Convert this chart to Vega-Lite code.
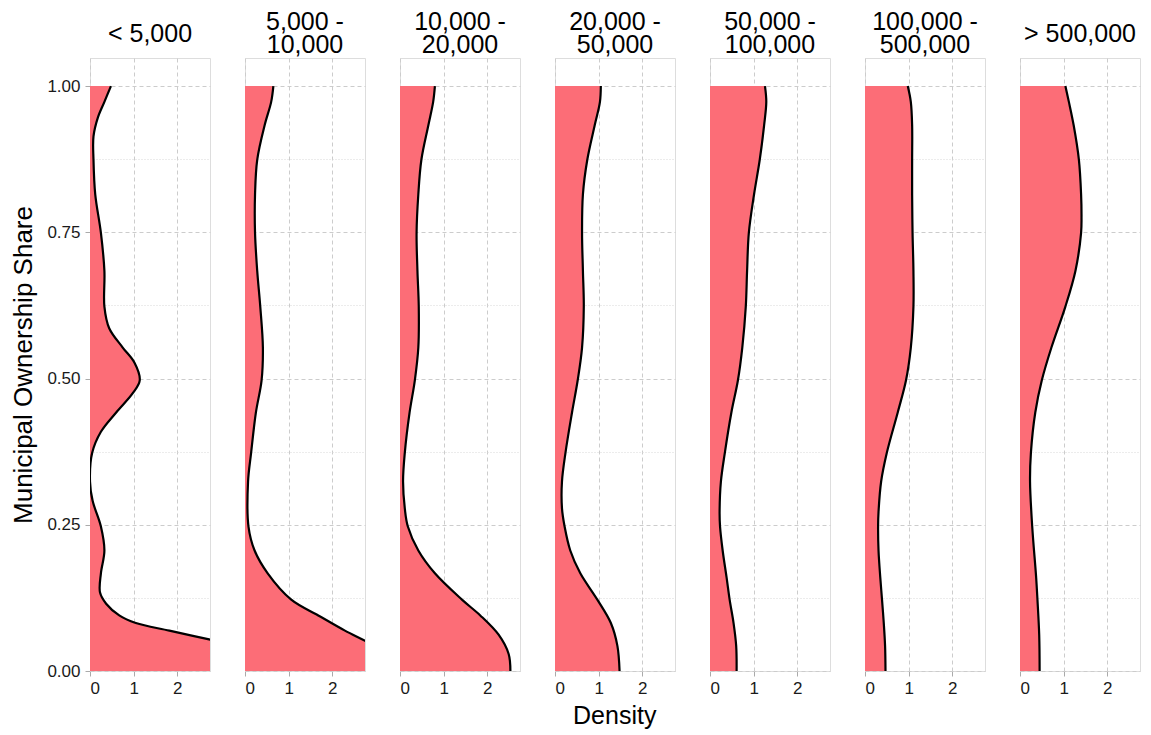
{
  "$schema": "https://vega.github.io/schema/vega-lite/v6.json",
  "background": "white",
  "padding": {"left": 10, "top": 10, "right": 5, "bottom": 2},
  "bounds": "flush",
  "title": {"text": "Density", "orient": "bottom", "anchor": "middle", "fontSize": 25, "fontWeight": "normal", "color": "#000000", "offset": 8, "dx": 39},
  "config": {
    "font": "Liberation Sans",
    "view": {"stroke": "#dddddd", "strokeWidth": 1}
  },
  "data": {"values": [
    {"group": "< 5,000", "share": 1.0, "density": 0.48},
    {"group": "< 5,000", "share": 0.973, "density": 0.33},
    {"group": "< 5,000", "share": 0.946, "density": 0.18},
    {"group": "< 5,000", "share": 0.914, "density": 0.08},
    {"group": "< 5,000", "share": 0.874, "density": 0.08},
    {"group": "< 5,000", "share": 0.815, "density": 0.12},
    {"group": "< 5,000", "share": 0.749, "density": 0.25},
    {"group": "< 5,000", "share": 0.684, "density": 0.33},
    {"group": "< 5,000", "share": 0.623, "density": 0.33},
    {"group": "< 5,000", "share": 0.586, "density": 0.44},
    {"group": "< 5,000", "share": 0.553, "density": 0.75},
    {"group": "< 5,000", "share": 0.527, "density": 1.02},
    {"group": "< 5,000", "share": 0.497, "density": 1.14},
    {"group": "< 5,000", "share": 0.475, "density": 0.98},
    {"group": "< 5,000", "share": 0.442, "density": 0.6},
    {"group": "< 5,000", "share": 0.409, "density": 0.25},
    {"group": "< 5,000", "share": 0.373, "density": 0.05},
    {"group": "< 5,000", "share": 0.324, "density": 0.0},
    {"group": "< 5,000", "share": 0.291, "density": 0.06},
    {"group": "< 5,000", "share": 0.247, "density": 0.25},
    {"group": "< 5,000", "share": 0.206, "density": 0.33},
    {"group": "< 5,000", "share": 0.167, "density": 0.25},
    {"group": "< 5,000", "share": 0.134, "density": 0.23},
    {"group": "< 5,000", "share": 0.115, "density": 0.37},
    {"group": "< 5,000", "share": 0.095, "density": 0.67},
    {"group": "< 5,000", "share": 0.082, "density": 1.05},
    {"group": "< 5,000", "share": 0.069, "density": 1.82},
    {"group": "< 5,000", "share": 0.054, "density": 2.73},
    {"group": "< 5,000", "share": 0.04, "density": 3.6},
    {"group": "< 5,000", "share": 0.02, "density": 4.6},
    {"group": "< 5,000", "share": 0.0, "density": 5.2},

    {"group": "5,000 - 10,000", "share": 1.0, "density": 0.65},
    {"group": "5,000 - 10,000", "share": 0.973, "density": 0.6},
    {"group": "5,000 - 10,000", "share": 0.933, "density": 0.45},
    {"group": "5,000 - 10,000", "share": 0.874, "density": 0.28},
    {"group": "5,000 - 10,000", "share": 0.815, "density": 0.23},
    {"group": "5,000 - 10,000", "share": 0.749, "density": 0.23},
    {"group": "5,000 - 10,000", "share": 0.684, "density": 0.28},
    {"group": "5,000 - 10,000", "share": 0.623, "density": 0.35},
    {"group": "5,000 - 10,000", "share": 0.553, "density": 0.41},
    {"group": "5,000 - 10,000", "share": 0.497, "density": 0.38},
    {"group": "5,000 - 10,000", "share": 0.442, "density": 0.25},
    {"group": "5,000 - 10,000", "share": 0.373, "density": 0.14},
    {"group": "5,000 - 10,000", "share": 0.324, "density": 0.07},
    {"group": "5,000 - 10,000", "share": 0.247, "density": 0.08},
    {"group": "5,000 - 10,000", "share": 0.206, "density": 0.22},
    {"group": "5,000 - 10,000", "share": 0.167, "density": 0.52},
    {"group": "5,000 - 10,000", "share": 0.122, "density": 1.06},
    {"group": "5,000 - 10,000", "share": 0.095, "density": 1.68},
    {"group": "5,000 - 10,000", "share": 0.069, "density": 2.29},
    {"group": "5,000 - 10,000", "share": 0.052, "density": 2.74},
    {"group": "5,000 - 10,000", "share": 0.03, "density": 3.3},
    {"group": "5,000 - 10,000", "share": 0.0, "density": 4.0},

    {"group": "10,000 - 20,000", "share": 1.0, "density": 0.8},
    {"group": "10,000 - 20,000", "share": 0.973, "density": 0.76},
    {"group": "10,000 - 20,000", "share": 0.933, "density": 0.65},
    {"group": "10,000 - 20,000", "share": 0.874, "density": 0.49},
    {"group": "10,000 - 20,000", "share": 0.815, "density": 0.42},
    {"group": "10,000 - 20,000", "share": 0.749, "density": 0.38},
    {"group": "10,000 - 20,000", "share": 0.684, "density": 0.4},
    {"group": "10,000 - 20,000", "share": 0.623, "density": 0.43},
    {"group": "10,000 - 20,000", "share": 0.553, "density": 0.42},
    {"group": "10,000 - 20,000", "share": 0.497, "density": 0.34},
    {"group": "10,000 - 20,000", "share": 0.442, "density": 0.22},
    {"group": "10,000 - 20,000", "share": 0.373, "density": 0.11},
    {"group": "10,000 - 20,000", "share": 0.324, "density": 0.07},
    {"group": "10,000 - 20,000", "share": 0.278, "density": 0.11},
    {"group": "10,000 - 20,000", "share": 0.247, "density": 0.18},
    {"group": "10,000 - 20,000", "share": 0.206, "density": 0.42},
    {"group": "10,000 - 20,000", "share": 0.167, "density": 0.8},
    {"group": "10,000 - 20,000", "share": 0.122, "density": 1.42},
    {"group": "10,000 - 20,000", "share": 0.095, "density": 1.84},
    {"group": "10,000 - 20,000", "share": 0.062, "density": 2.26},
    {"group": "10,000 - 20,000", "share": 0.029, "density": 2.49},
    {"group": "10,000 - 20,000", "share": 0.0, "density": 2.53},

    {"group": "20,000 - 50,000", "share": 1.0, "density": 1.05},
    {"group": "20,000 - 50,000", "share": 0.973, "density": 1.03},
    {"group": "20,000 - 50,000", "share": 0.933, "density": 0.91},
    {"group": "20,000 - 50,000", "share": 0.874, "density": 0.74},
    {"group": "20,000 - 50,000", "share": 0.815, "density": 0.64},
    {"group": "20,000 - 50,000", "share": 0.749, "density": 0.62},
    {"group": "20,000 - 50,000", "share": 0.684, "density": 0.64},
    {"group": "20,000 - 50,000", "share": 0.623, "density": 0.66},
    {"group": "20,000 - 50,000", "share": 0.553, "density": 0.62},
    {"group": "20,000 - 50,000", "share": 0.497, "density": 0.52},
    {"group": "20,000 - 50,000", "share": 0.442, "density": 0.39},
    {"group": "20,000 - 50,000", "share": 0.373, "density": 0.24},
    {"group": "20,000 - 50,000", "share": 0.324, "density": 0.16},
    {"group": "20,000 - 50,000", "share": 0.278, "density": 0.16},
    {"group": "20,000 - 50,000", "share": 0.247, "density": 0.22},
    {"group": "20,000 - 50,000", "share": 0.206, "density": 0.35},
    {"group": "20,000 - 50,000", "share": 0.167, "density": 0.58},
    {"group": "20,000 - 50,000", "share": 0.122, "density": 0.97},
    {"group": "20,000 - 50,000", "share": 0.082, "density": 1.28},
    {"group": "20,000 - 50,000", "share": 0.043, "density": 1.43},
    {"group": "20,000 - 50,000", "share": 0.0, "density": 1.48},

    {"group": "50,000 - 100,000", "share": 1.0, "density": 1.26},
    {"group": "50,000 - 100,000", "share": 0.973, "density": 1.29},
    {"group": "50,000 - 100,000", "share": 0.933, "density": 1.24},
    {"group": "50,000 - 100,000", "share": 0.874, "density": 1.14},
    {"group": "50,000 - 100,000", "share": 0.815, "density": 1.01},
    {"group": "50,000 - 100,000", "share": 0.749, "density": 0.89},
    {"group": "50,000 - 100,000", "share": 0.684, "density": 0.85},
    {"group": "50,000 - 100,000", "share": 0.623, "density": 0.82},
    {"group": "50,000 - 100,000", "share": 0.553, "density": 0.74},
    {"group": "50,000 - 100,000", "share": 0.497, "density": 0.64},
    {"group": "50,000 - 100,000", "share": 0.442, "density": 0.49},
    {"group": "50,000 - 100,000", "share": 0.373, "density": 0.34},
    {"group": "50,000 - 100,000", "share": 0.324, "density": 0.25},
    {"group": "50,000 - 100,000", "share": 0.272, "density": 0.22},
    {"group": "50,000 - 100,000", "share": 0.247, "density": 0.23},
    {"group": "50,000 - 100,000", "share": 0.206, "density": 0.29},
    {"group": "50,000 - 100,000", "share": 0.16, "density": 0.38},
    {"group": "50,000 - 100,000", "share": 0.122, "density": 0.45},
    {"group": "50,000 - 100,000", "share": 0.082, "density": 0.54},
    {"group": "50,000 - 100,000", "share": 0.043, "density": 0.6},
    {"group": "50,000 - 100,000", "share": 0.0, "density": 0.61},

    {"group": "100,000 - 500,000", "share": 1.0, "density": 0.98},
    {"group": "100,000 - 500,000", "share": 0.973, "density": 1.05},
    {"group": "100,000 - 500,000", "share": 0.933, "density": 1.08},
    {"group": "100,000 - 500,000", "share": 0.874, "density": 1.08},
    {"group": "100,000 - 500,000", "share": 0.815, "density": 1.08},
    {"group": "100,000 - 500,000", "share": 0.749, "density": 1.09},
    {"group": "100,000 - 500,000", "share": 0.684, "density": 1.11},
    {"group": "100,000 - 500,000", "share": 0.623, "density": 1.11},
    {"group": "100,000 - 500,000", "share": 0.553, "density": 1.05},
    {"group": "100,000 - 500,000", "share": 0.497, "density": 0.94},
    {"group": "100,000 - 500,000", "share": 0.442, "density": 0.75},
    {"group": "100,000 - 500,000", "share": 0.373, "density": 0.5},
    {"group": "100,000 - 500,000", "share": 0.324, "density": 0.37},
    {"group": "100,000 - 500,000", "share": 0.272, "density": 0.31},
    {"group": "100,000 - 500,000", "share": 0.247, "density": 0.3},
    {"group": "100,000 - 500,000", "share": 0.206, "density": 0.31},
    {"group": "100,000 - 500,000", "share": 0.16, "density": 0.35},
    {"group": "100,000 - 500,000", "share": 0.122, "density": 0.39},
    {"group": "100,000 - 500,000", "share": 0.082, "density": 0.43},
    {"group": "100,000 - 500,000", "share": 0.043, "density": 0.46},
    {"group": "100,000 - 500,000", "share": 0.0, "density": 0.47},

    {"group": "> 500,000", "share": 1.0, "density": 1.04},
    {"group": "> 500,000", "share": 0.973, "density": 1.12},
    {"group": "> 500,000", "share": 0.933, "density": 1.23},
    {"group": "> 500,000", "share": 0.874, "density": 1.35},
    {"group": "> 500,000", "share": 0.815, "density": 1.4},
    {"group": "> 500,000", "share": 0.776, "density": 1.41},
    {"group": "> 500,000", "share": 0.749, "density": 1.4},
    {"group": "> 500,000", "share": 0.684, "density": 1.27},
    {"group": "> 500,000", "share": 0.623, "density": 1.04},
    {"group": "> 500,000", "share": 0.553, "density": 0.72},
    {"group": "> 500,000", "share": 0.497, "density": 0.5},
    {"group": "> 500,000", "share": 0.442, "density": 0.35},
    {"group": "> 500,000", "share": 0.373, "density": 0.25},
    {"group": "> 500,000", "share": 0.324, "density": 0.23},
    {"group": "> 500,000", "share": 0.247, "density": 0.28},
    {"group": "> 500,000", "share": 0.16, "density": 0.37},
    {"group": "> 500,000", "share": 0.122, "density": 0.4},
    {"group": "> 500,000", "share": 0.062, "density": 0.44},
    {"group": "> 500,000", "share": 0.0, "density": 0.45}
  ]},
  "facet": {
    "column": {
      "field": "group",
      "type": "nominal",
      "title": null,
      "sort": ["< 5,000", "5,000 - 10,000", "10,000 - 20,000", "20,000 - 50,000", "50,000 - 100,000", "100,000 - 500,000", "> 500,000"],
      "header": {
        "labelOrient": "top",
        "labelFontSize": 25,
        "labelColor": "#000000",
        "labelLineHeight": 11.5,
        "labelBaseline": "bottom",
        "labelPadding": -25,
        "labelExpr": "indexof(datum.label, ' - ') > 0 ? [split(datum.label, ' - ')[0] + ' -', '\u200b', split(datum.label, ' - ')[1]] : [datum.label, '\u200b']"
      }
    }
  },
  "spacing": 35,
  "spec": {
    "width": 120,
    "height": 613,
    "layer": [
      {
        "mark": {"type": "area", "orient": "horizontal", "color": "#FC6D77", "interpolate": "catmull-rom", "clip": true},
        "encoding": {
          "y": {"field": "share", "type": "quantitative",
                "scale": {"domain": [0, 1.048], "nice": false},
                "axis": {"orient": "left",
                         "values": [0, 0.125, 0.25, 0.375, 0.5, 0.625, 0.75, 0.875, 1],
                         "format": ".2f",
                         "labelExpr": "(datum.value * 4) % 1 === 0 ? datum.label : ''",
                         "grid": true,
                         "gridDash": {"condition": {"test": "(datum.value * 4) % 1 !== 0", "value": [1, 2]}, "value": [4, 3]},
                         "gridColor": {"condition": {"test": "(datum.value * 4) % 1 !== 0", "value": "#d9d9d9"}, "value": "#cccccc"},
                         "tickOpacity": {"condition": {"test": "(datum.value * 4) % 1 !== 0", "value": 0}, "value": 1},
                         "domain": false, "tickColor": "#aaaaaa", "tickSize": 5, "labelFontSize": 17, "labelColor": "#1a1a1a", "labelPadding": 5,
                         "title": "Municipal Ownership Share", "titleFontSize": 26, "titleFontWeight": "normal", "titleColor": "#000000", "titlePadding": 10}},
          "x": {"field": "density", "type": "quantitative", "stack": null,
                "scale": {"domain": [0, 2.75], "nice": false, "zero": true},
                "axis": {"orient": "bottom",
                         "values": [0, 0.5, 1, 1.5, 2, 2.5],
                         "labelExpr": "datum.value % 1 === 0 ? datum.label : ''",
                         "grid": true,
                         "gridDash": {"condition": {"test": "datum.value % 1 !== 0", "value": [1, 2]}, "value": [4, 3]},
                         "gridColor": {"condition": {"test": "datum.value % 1 !== 0", "value": "#d9d9d9"}, "value": "#cccccc"},
                         "tickOpacity": {"condition": {"test": "datum.value % 1 !== 0", "value": 0}, "value": 1},
                         "domain": false, "tickColor": "#aaaaaa", "tickSize": 5, "labelFontSize": 17, "labelColor": "#1a1a1a", "labelPadding": 4,
                         "title": null}}
        }
      },
      {
        "mark": {"type": "line", "color": "#000000", "strokeWidth": 2.2, "interpolate": "catmull-rom", "clip": true},
        "encoding": {
          "y": {"field": "share", "type": "quantitative"},
          "x": {"field": "density", "type": "quantitative"},
          "order": {"field": "share", "type": "quantitative"}
        }
      }
    ]
  }
}
